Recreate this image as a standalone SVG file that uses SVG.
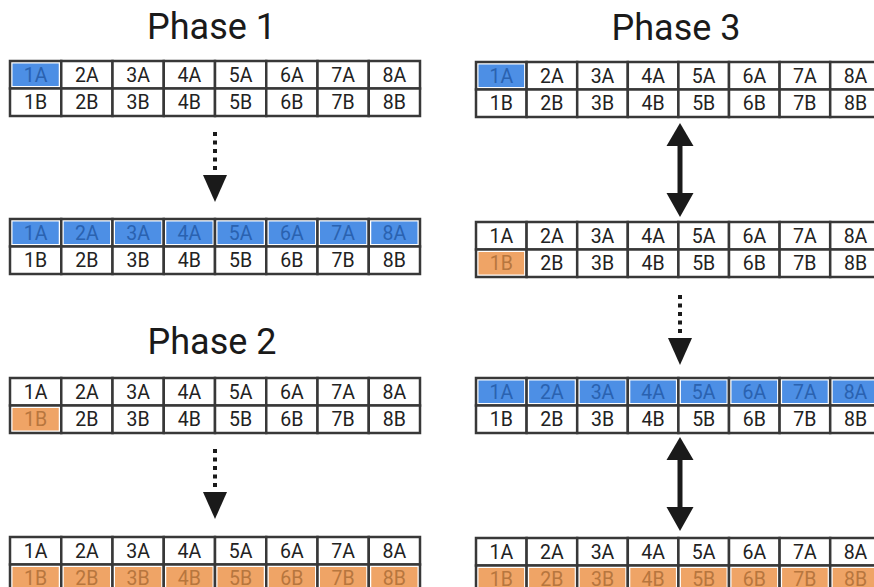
<svg xmlns="http://www.w3.org/2000/svg" width="874" height="587" viewBox="0 0 874 587">
  <defs>
    <style>
      .title { font-family: Roboto, "Liberation Sans", sans-serif; font-size: 36px; fill: #1a1a1a; text-anchor: middle; }
      .cell { fill: #ffffff; stroke: #383838; stroke-width: 2.5; }
      .fb { fill: #4d8fe5; }
      .fo { fill: #efa466; }
      text.t { font-family: Roboto, "Liberation Sans", sans-serif; font-size: 19.5px; fill: #222222; text-anchor: middle; }
      text.tb { fill: #2a62b0; }
      text.to { fill: #b7763e; }
      .dots { stroke: #1a1a1a; stroke-width: 4; stroke-dasharray: 4 4.5; fill: none; }
      .shaft { stroke: #1a1a1a; stroke-width: 5; fill: none; }
      .head { fill: #1a1a1a; }
    </style>
  </defs>
  <rect width="874" height="587" fill="#ffffff"/>

  <text class="title" x="211.5" y="39">Phase 1</text>
  <text class="title" x="676" y="40">Phase 3</text>
  <text class="title" x="212" y="354">Phase 2</text>

  <!-- Phase 1, initial state -->
  <g id="p1-before" transform="translate(10,61)">
    <rect class="cell" x="0" y="0" width="51.25" height="27.5"/><rect class="fb" x="2.5" y="2.5" width="46.25" height="22.5"/>
    <rect class="cell" x="51.25" y="0" width="51.25" height="27.5"/>
    <rect class="cell" x="102.5" y="0" width="51.25" height="27.5"/>
    <rect class="cell" x="153.75" y="0" width="51.25" height="27.5"/>
    <rect class="cell" x="205" y="0" width="51.25" height="27.5"/>
    <rect class="cell" x="256.25" y="0" width="51.25" height="27.5"/>
    <rect class="cell" x="307.5" y="0" width="51.25" height="27.5"/>
    <rect class="cell" x="358.75" y="0" width="51.25" height="27.5"/>
    <rect class="cell" x="0" y="27.5" width="51.25" height="27.5"/>
    <rect class="cell" x="51.25" y="27.5" width="51.25" height="27.5"/>
    <rect class="cell" x="102.5" y="27.5" width="51.25" height="27.5"/>
    <rect class="cell" x="153.75" y="27.5" width="51.25" height="27.5"/>
    <rect class="cell" x="205" y="27.5" width="51.25" height="27.5"/>
    <rect class="cell" x="256.25" y="27.5" width="51.25" height="27.5"/>
    <rect class="cell" x="307.5" y="27.5" width="51.25" height="27.5"/>
    <rect class="cell" x="358.75" y="27.5" width="51.25" height="27.5"/>
    <text class="t tb" x="25.6" y="20.8">1A</text><text class="t" x="76.9" y="20.8">2A</text><text class="t" x="128.1" y="20.8">3A</text><text class="t" x="179.4" y="20.8">4A</text><text class="t" x="230.6" y="20.8">5A</text><text class="t" x="281.9" y="20.8">6A</text><text class="t" x="333.1" y="20.8">7A</text><text class="t" x="384.4" y="20.8">8A</text>
    <text class="t" x="25.6" y="48.3">1B</text><text class="t" x="76.9" y="48.3">2B</text><text class="t" x="128.1" y="48.3">3B</text><text class="t" x="179.4" y="48.3">4B</text><text class="t" x="230.6" y="48.3">5B</text><text class="t" x="281.9" y="48.3">6B</text><text class="t" x="333.1" y="48.3">7B</text><text class="t" x="384.4" y="48.3">8B</text>
  </g>

  <!-- Phase 1, after broadcast along row A -->
  <g id="p1-after" transform="translate(10,219)">
    <rect class="cell" x="0" y="0" width="51.25" height="27.5"/><rect class="fb" x="2.5" y="2.5" width="46.25" height="22.5"/>
    <rect class="cell" x="51.25" y="0" width="51.25" height="27.5"/><rect class="fb" x="53.75" y="2.5" width="46.25" height="22.5"/>
    <rect class="cell" x="102.5" y="0" width="51.25" height="27.5"/><rect class="fb" x="105" y="2.5" width="46.25" height="22.5"/>
    <rect class="cell" x="153.75" y="0" width="51.25" height="27.5"/><rect class="fb" x="156.25" y="2.5" width="46.25" height="22.5"/>
    <rect class="cell" x="205" y="0" width="51.25" height="27.5"/><rect class="fb" x="207.5" y="2.5" width="46.25" height="22.5"/>
    <rect class="cell" x="256.25" y="0" width="51.25" height="27.5"/><rect class="fb" x="258.75" y="2.5" width="46.25" height="22.5"/>
    <rect class="cell" x="307.5" y="0" width="51.25" height="27.5"/><rect class="fb" x="310" y="2.5" width="46.25" height="22.5"/>
    <rect class="cell" x="358.75" y="0" width="51.25" height="27.5"/><rect class="fb" x="361.25" y="2.5" width="46.25" height="22.5"/>
    <rect class="cell" x="0" y="27.5" width="51.25" height="27.5"/>
    <rect class="cell" x="51.25" y="27.5" width="51.25" height="27.5"/>
    <rect class="cell" x="102.5" y="27.5" width="51.25" height="27.5"/>
    <rect class="cell" x="153.75" y="27.5" width="51.25" height="27.5"/>
    <rect class="cell" x="205" y="27.5" width="51.25" height="27.5"/>
    <rect class="cell" x="256.25" y="27.5" width="51.25" height="27.5"/>
    <rect class="cell" x="307.5" y="27.5" width="51.25" height="27.5"/>
    <rect class="cell" x="358.75" y="27.5" width="51.25" height="27.5"/>
    <text class="t tb" x="25.6" y="20.8">1A</text><text class="t tb" x="76.9" y="20.8">2A</text><text class="t tb" x="128.1" y="20.8">3A</text><text class="t tb" x="179.4" y="20.8">4A</text><text class="t tb" x="230.6" y="20.8">5A</text><text class="t tb" x="281.9" y="20.8">6A</text><text class="t tb" x="333.1" y="20.8">7A</text><text class="t tb" x="384.4" y="20.8">8A</text>
    <text class="t" x="25.6" y="48.3">1B</text><text class="t" x="76.9" y="48.3">2B</text><text class="t" x="128.1" y="48.3">3B</text><text class="t" x="179.4" y="48.3">4B</text><text class="t" x="230.6" y="48.3">5B</text><text class="t" x="281.9" y="48.3">6B</text><text class="t" x="333.1" y="48.3">7B</text><text class="t" x="384.4" y="48.3">8B</text>
  </g>

  <!-- Phase 2, initial state -->
  <g id="p2-before" transform="translate(10,378)">
    <rect class="cell" x="0" y="0" width="51.25" height="27.5"/>
    <rect class="cell" x="51.25" y="0" width="51.25" height="27.5"/>
    <rect class="cell" x="102.5" y="0" width="51.25" height="27.5"/>
    <rect class="cell" x="153.75" y="0" width="51.25" height="27.5"/>
    <rect class="cell" x="205" y="0" width="51.25" height="27.5"/>
    <rect class="cell" x="256.25" y="0" width="51.25" height="27.5"/>
    <rect class="cell" x="307.5" y="0" width="51.25" height="27.5"/>
    <rect class="cell" x="358.75" y="0" width="51.25" height="27.5"/>
    <rect class="cell" x="0" y="27.5" width="51.25" height="27.5"/><rect class="fo" x="2.5" y="30" width="46.25" height="22.5"/>
    <rect class="cell" x="51.25" y="27.5" width="51.25" height="27.5"/>
    <rect class="cell" x="102.5" y="27.5" width="51.25" height="27.5"/>
    <rect class="cell" x="153.75" y="27.5" width="51.25" height="27.5"/>
    <rect class="cell" x="205" y="27.5" width="51.25" height="27.5"/>
    <rect class="cell" x="256.25" y="27.5" width="51.25" height="27.5"/>
    <rect class="cell" x="307.5" y="27.5" width="51.25" height="27.5"/>
    <rect class="cell" x="358.75" y="27.5" width="51.25" height="27.5"/>
    <text class="t" x="25.6" y="20.8">1A</text><text class="t" x="76.9" y="20.8">2A</text><text class="t" x="128.1" y="20.8">3A</text><text class="t" x="179.4" y="20.8">4A</text><text class="t" x="230.6" y="20.8">5A</text><text class="t" x="281.9" y="20.8">6A</text><text class="t" x="333.1" y="20.8">7A</text><text class="t" x="384.4" y="20.8">8A</text>
    <text class="t to" x="25.6" y="48.3">1B</text><text class="t" x="76.9" y="48.3">2B</text><text class="t" x="128.1" y="48.3">3B</text><text class="t" x="179.4" y="48.3">4B</text><text class="t" x="230.6" y="48.3">5B</text><text class="t" x="281.9" y="48.3">6B</text><text class="t" x="333.1" y="48.3">7B</text><text class="t" x="384.4" y="48.3">8B</text>
  </g>

  <!-- Phase 2, after broadcast along row B -->
  <g id="p2-after" transform="translate(10,537)">
    <rect class="cell" x="0" y="0" width="51.25" height="27.5"/>
    <rect class="cell" x="51.25" y="0" width="51.25" height="27.5"/>
    <rect class="cell" x="102.5" y="0" width="51.25" height="27.5"/>
    <rect class="cell" x="153.75" y="0" width="51.25" height="27.5"/>
    <rect class="cell" x="205" y="0" width="51.25" height="27.5"/>
    <rect class="cell" x="256.25" y="0" width="51.25" height="27.5"/>
    <rect class="cell" x="307.5" y="0" width="51.25" height="27.5"/>
    <rect class="cell" x="358.75" y="0" width="51.25" height="27.5"/>
    <rect class="cell" x="0" y="27.5" width="51.25" height="27.5"/><rect class="fo" x="2.5" y="30" width="46.25" height="22.5"/>
    <rect class="cell" x="51.25" y="27.5" width="51.25" height="27.5"/><rect class="fo" x="53.75" y="30" width="46.25" height="22.5"/>
    <rect class="cell" x="102.5" y="27.5" width="51.25" height="27.5"/><rect class="fo" x="105" y="30" width="46.25" height="22.5"/>
    <rect class="cell" x="153.75" y="27.5" width="51.25" height="27.5"/><rect class="fo" x="156.25" y="30" width="46.25" height="22.5"/>
    <rect class="cell" x="205" y="27.5" width="51.25" height="27.5"/><rect class="fo" x="207.5" y="30" width="46.25" height="22.5"/>
    <rect class="cell" x="256.25" y="27.5" width="51.25" height="27.5"/><rect class="fo" x="258.75" y="30" width="46.25" height="22.5"/>
    <rect class="cell" x="307.5" y="27.5" width="51.25" height="27.5"/><rect class="fo" x="310" y="30" width="46.25" height="22.5"/>
    <rect class="cell" x="358.75" y="27.5" width="51.25" height="27.5"/><rect class="fo" x="361.25" y="30" width="46.25" height="22.5"/>
    <text class="t" x="25.6" y="20.8">1A</text><text class="t" x="76.9" y="20.8">2A</text><text class="t" x="128.1" y="20.8">3A</text><text class="t" x="179.4" y="20.8">4A</text><text class="t" x="230.6" y="20.8">5A</text><text class="t" x="281.9" y="20.8">6A</text><text class="t" x="333.1" y="20.8">7A</text><text class="t" x="384.4" y="20.8">8A</text>
    <text class="t to" x="25.6" y="48.3">1B</text><text class="t to" x="76.9" y="48.3">2B</text><text class="t to" x="128.1" y="48.3">3B</text><text class="t to" x="179.4" y="48.3">4B</text><text class="t to" x="230.6" y="48.3">5B</text><text class="t to" x="281.9" y="48.3">6B</text><text class="t to" x="333.1" y="48.3">7B</text><text class="t to" x="384.4" y="48.3">8B</text>
  </g>

  <!-- Phase 3, step 1 -->
  <g id="p3-step1" transform="translate(476,62)">
    <rect class="cell" x="0" y="0" width="50.6" height="27.5"/><rect class="fb" x="2.5" y="2.5" width="45.6" height="22.5"/>
    <rect class="cell" x="50.6" y="0" width="50.6" height="27.5"/>
    <rect class="cell" x="101.2" y="0" width="50.6" height="27.5"/>
    <rect class="cell" x="151.8" y="0" width="50.6" height="27.5"/>
    <rect class="cell" x="202.4" y="0" width="50.6" height="27.5"/>
    <rect class="cell" x="253" y="0" width="50.6" height="27.5"/>
    <rect class="cell" x="303.6" y="0" width="50.6" height="27.5"/>
    <rect class="cell" x="354.2" y="0" width="50.6" height="27.5"/>
    <rect class="cell" x="0" y="27.5" width="50.6" height="27.5"/>
    <rect class="cell" x="50.6" y="27.5" width="50.6" height="27.5"/>
    <rect class="cell" x="101.2" y="27.5" width="50.6" height="27.5"/>
    <rect class="cell" x="151.8" y="27.5" width="50.6" height="27.5"/>
    <rect class="cell" x="202.4" y="27.5" width="50.6" height="27.5"/>
    <rect class="cell" x="253" y="27.5" width="50.6" height="27.5"/>
    <rect class="cell" x="303.6" y="27.5" width="50.6" height="27.5"/>
    <rect class="cell" x="354.2" y="27.5" width="50.6" height="27.5"/>
    <text class="t tb" x="25.3" y="20.8">1A</text><text class="t" x="75.9" y="20.8">2A</text><text class="t" x="126.5" y="20.8">3A</text><text class="t" x="177.1" y="20.8">4A</text><text class="t" x="227.7" y="20.8">5A</text><text class="t" x="278.3" y="20.8">6A</text><text class="t" x="328.9" y="20.8">7A</text><text class="t" x="379.5" y="20.8">8A</text>
    <text class="t" x="25.3" y="48.3">1B</text><text class="t" x="75.9" y="48.3">2B</text><text class="t" x="126.5" y="48.3">3B</text><text class="t" x="177.1" y="48.3">4B</text><text class="t" x="227.7" y="48.3">5B</text><text class="t" x="278.3" y="48.3">6B</text><text class="t" x="328.9" y="48.3">7B</text><text class="t" x="379.5" y="48.3">8B</text>
  </g>

  <!-- Phase 3, step 2 -->
  <g id="p3-step2" transform="translate(476,222)">
    <rect class="cell" x="0" y="0" width="50.6" height="27.5"/>
    <rect class="cell" x="50.6" y="0" width="50.6" height="27.5"/>
    <rect class="cell" x="101.2" y="0" width="50.6" height="27.5"/>
    <rect class="cell" x="151.8" y="0" width="50.6" height="27.5"/>
    <rect class="cell" x="202.4" y="0" width="50.6" height="27.5"/>
    <rect class="cell" x="253" y="0" width="50.6" height="27.5"/>
    <rect class="cell" x="303.6" y="0" width="50.6" height="27.5"/>
    <rect class="cell" x="354.2" y="0" width="50.6" height="27.5"/>
    <rect class="cell" x="0" y="27.5" width="50.6" height="27.5"/><rect class="fo" x="2.5" y="30" width="45.6" height="22.5"/>
    <rect class="cell" x="50.6" y="27.5" width="50.6" height="27.5"/>
    <rect class="cell" x="101.2" y="27.5" width="50.6" height="27.5"/>
    <rect class="cell" x="151.8" y="27.5" width="50.6" height="27.5"/>
    <rect class="cell" x="202.4" y="27.5" width="50.6" height="27.5"/>
    <rect class="cell" x="253" y="27.5" width="50.6" height="27.5"/>
    <rect class="cell" x="303.6" y="27.5" width="50.6" height="27.5"/>
    <rect class="cell" x="354.2" y="27.5" width="50.6" height="27.5"/>
    <text class="t" x="25.3" y="20.8">1A</text><text class="t" x="75.9" y="20.8">2A</text><text class="t" x="126.5" y="20.8">3A</text><text class="t" x="177.1" y="20.8">4A</text><text class="t" x="227.7" y="20.8">5A</text><text class="t" x="278.3" y="20.8">6A</text><text class="t" x="328.9" y="20.8">7A</text><text class="t" x="379.5" y="20.8">8A</text>
    <text class="t to" x="25.3" y="48.3">1B</text><text class="t" x="75.9" y="48.3">2B</text><text class="t" x="126.5" y="48.3">3B</text><text class="t" x="177.1" y="48.3">4B</text><text class="t" x="227.7" y="48.3">5B</text><text class="t" x="278.3" y="48.3">6B</text><text class="t" x="328.9" y="48.3">7B</text><text class="t" x="379.5" y="48.3">8B</text>
  </g>

  <!-- Phase 3, step 3 -->
  <g id="p3-step3" transform="translate(476,378)">
    <rect class="cell" x="0" y="0" width="50.6" height="27.5"/><rect class="fb" x="2.5" y="2.5" width="45.6" height="22.5"/>
    <rect class="cell" x="50.6" y="0" width="50.6" height="27.5"/><rect class="fb" x="53.1" y="2.5" width="45.6" height="22.5"/>
    <rect class="cell" x="101.2" y="0" width="50.6" height="27.5"/><rect class="fb" x="103.7" y="2.5" width="45.6" height="22.5"/>
    <rect class="cell" x="151.8" y="0" width="50.6" height="27.5"/><rect class="fb" x="154.3" y="2.5" width="45.6" height="22.5"/>
    <rect class="cell" x="202.4" y="0" width="50.6" height="27.5"/><rect class="fb" x="204.9" y="2.5" width="45.6" height="22.5"/>
    <rect class="cell" x="253" y="0" width="50.6" height="27.5"/><rect class="fb" x="255.5" y="2.5" width="45.6" height="22.5"/>
    <rect class="cell" x="303.6" y="0" width="50.6" height="27.5"/><rect class="fb" x="306.1" y="2.5" width="45.6" height="22.5"/>
    <rect class="cell" x="354.2" y="0" width="50.6" height="27.5"/><rect class="fb" x="356.7" y="2.5" width="45.6" height="22.5"/>
    <rect class="cell" x="0" y="27.5" width="50.6" height="27.5"/>
    <rect class="cell" x="50.6" y="27.5" width="50.6" height="27.5"/>
    <rect class="cell" x="101.2" y="27.5" width="50.6" height="27.5"/>
    <rect class="cell" x="151.8" y="27.5" width="50.6" height="27.5"/>
    <rect class="cell" x="202.4" y="27.5" width="50.6" height="27.5"/>
    <rect class="cell" x="253" y="27.5" width="50.6" height="27.5"/>
    <rect class="cell" x="303.6" y="27.5" width="50.6" height="27.5"/>
    <rect class="cell" x="354.2" y="27.5" width="50.6" height="27.5"/>
    <text class="t tb" x="25.3" y="20.8">1A</text><text class="t tb" x="75.9" y="20.8">2A</text><text class="t tb" x="126.5" y="20.8">3A</text><text class="t tb" x="177.1" y="20.8">4A</text><text class="t tb" x="227.7" y="20.8">5A</text><text class="t tb" x="278.3" y="20.8">6A</text><text class="t tb" x="328.9" y="20.8">7A</text><text class="t tb" x="379.5" y="20.8">8A</text>
    <text class="t" x="25.3" y="48.3">1B</text><text class="t" x="75.9" y="48.3">2B</text><text class="t" x="126.5" y="48.3">3B</text><text class="t" x="177.1" y="48.3">4B</text><text class="t" x="227.7" y="48.3">5B</text><text class="t" x="278.3" y="48.3">6B</text><text class="t" x="328.9" y="48.3">7B</text><text class="t" x="379.5" y="48.3">8B</text>
  </g>

  <!-- Phase 3, step 4 -->
  <g id="p3-step4" transform="translate(476,538)">
    <rect class="cell" x="0" y="0" width="50.6" height="27.5"/>
    <rect class="cell" x="50.6" y="0" width="50.6" height="27.5"/>
    <rect class="cell" x="101.2" y="0" width="50.6" height="27.5"/>
    <rect class="cell" x="151.8" y="0" width="50.6" height="27.5"/>
    <rect class="cell" x="202.4" y="0" width="50.6" height="27.5"/>
    <rect class="cell" x="253" y="0" width="50.6" height="27.5"/>
    <rect class="cell" x="303.6" y="0" width="50.6" height="27.5"/>
    <rect class="cell" x="354.2" y="0" width="50.6" height="27.5"/>
    <rect class="cell" x="0" y="27.5" width="50.6" height="27.5"/><rect class="fo" x="2.5" y="30" width="45.6" height="22.5"/>
    <rect class="cell" x="50.6" y="27.5" width="50.6" height="27.5"/><rect class="fo" x="53.1" y="30" width="45.6" height="22.5"/>
    <rect class="cell" x="101.2" y="27.5" width="50.6" height="27.5"/><rect class="fo" x="103.7" y="30" width="45.6" height="22.5"/>
    <rect class="cell" x="151.8" y="27.5" width="50.6" height="27.5"/><rect class="fo" x="154.3" y="30" width="45.6" height="22.5"/>
    <rect class="cell" x="202.4" y="27.5" width="50.6" height="27.5"/><rect class="fo" x="204.9" y="30" width="45.6" height="22.5"/>
    <rect class="cell" x="253" y="27.5" width="50.6" height="27.5"/><rect class="fo" x="255.5" y="30" width="45.6" height="22.5"/>
    <rect class="cell" x="303.6" y="27.5" width="50.6" height="27.5"/><rect class="fo" x="306.1" y="30" width="45.6" height="22.5"/>
    <rect class="cell" x="354.2" y="27.5" width="50.6" height="27.5"/><rect class="fo" x="356.7" y="30" width="45.6" height="22.5"/>
    <text class="t" x="25.3" y="20.8">1A</text><text class="t" x="75.9" y="20.8">2A</text><text class="t" x="126.5" y="20.8">3A</text><text class="t" x="177.1" y="20.8">4A</text><text class="t" x="227.7" y="20.8">5A</text><text class="t" x="278.3" y="20.8">6A</text><text class="t" x="328.9" y="20.8">7A</text><text class="t" x="379.5" y="20.8">8A</text>
    <text class="t to" x="25.3" y="48.3">1B</text><text class="t to" x="75.9" y="48.3">2B</text><text class="t to" x="126.5" y="48.3">3B</text><text class="t to" x="177.1" y="48.3">4B</text><text class="t to" x="227.7" y="48.3">5B</text><text class="t to" x="278.3" y="48.3">6B</text><text class="t to" x="328.9" y="48.3">7B</text><text class="t to" x="379.5" y="48.3">8B</text>
  </g>

  <!-- Connectors: dotted arrows for broadcasts, solid double arrows for exchanges -->
  <g id="connectors">
    <line class="dots" x1="215" y1="132" x2="215" y2="172"/>
    <polygon class="head" points="203,175 227,175 215,202"/>

    <line class="dots" x1="215" y1="449" x2="215" y2="489"/>
    <polygon class="head" points="203,492 227,492 215,519"/>

    <line class="dots" x1="680" y1="295" x2="680" y2="335"/>
    <polygon class="head" points="668,338 692,338 680,365"/>

    <line class="shaft" x1="680" y1="144" x2="680" y2="195"/>
    <polygon class="head" points="680,123 693.5,146 666.5,146"/>
    <polygon class="head" points="666.5,193 693.5,193 680,217"/>

    <line class="shaft" x1="680" y1="458" x2="680" y2="509"/>
    <polygon class="head" points="680,437 693.5,460 666.5,460"/>
    <polygon class="head" points="666.5,507 693.5,507 680,531"/>
  </g>
</svg>
